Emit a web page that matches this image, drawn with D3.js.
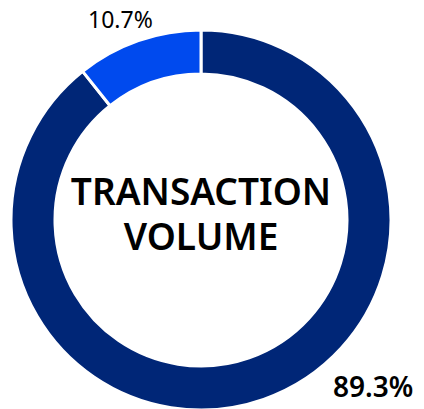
<!DOCTYPE html>
<html>
<head>
<meta charset="utf-8">
<script src="https://cdn.jsdelivr.net/npm/d3@7"></script>
<style>
  body { margin: 0; background: #fff; }
  svg { display: block; font-family: "Noto Sans", "Open Sans", sans-serif; }
</style>
</head>
<body>
<div id="chart"></div>
<script>
"use strict";

var width = 424;
var height = 409;

// data
var categories = ["Other", "Share"];
var values = [89.3, 10.7];
var labels = ["89.3%", "10.7%"];
var colors = ["#002677", "#004AEE"];
var centerLines = ["TRANSACTION", "VOLUME"];

var cx = 201, cy = 220;
var outerR = 190, innerR = 146;

var svg = d3.select("#chart").append("svg")
  .attr("width", width)
  .attr("height", height);

var g = svg.append("g").attr("transform", "translate(" + cx + "," + cy + ")");

var pie = d3.pie().sort(null).value(function (d) { return d; });
var arc = d3.arc().innerRadius(innerR).outerRadius(outerR);

var arcs = pie(values);

g.selectAll("path").data(arcs).enter().append("path")
  .attr("d", arc)
  .attr("fill", function (d, i) { return colors[i]; })
  .attr("stroke", "#fff")
  .attr("stroke-width", 3);

// percentage labels
svg.append("text")
  .attr("x", 333).attr("y", 397)
  .attr("font-size", 28).attr("font-weight", 600)
  .attr("fill", "#000")
  .text(labels[0]);

svg.append("text")
  .attr("x", 88).attr("y", 28)
  .attr("font-size", 23)
  .attr("fill", "#000")
  .text(labels[1]);

// center title, one text block with two lines
var title = g.append("text")
  .attr("text-anchor", "middle")
  .attr("font-size", 37).attr("font-weight", 600)
  .attr("fill", "#000");

title.selectAll("tspan").data(centerLines).enter().append("tspan")
  .attr("x", 0)
  .attr("y", function (d, i) { return -15 + i * 45; })
  .text(function (d) { return d; });
</script>
</body>
</html>
